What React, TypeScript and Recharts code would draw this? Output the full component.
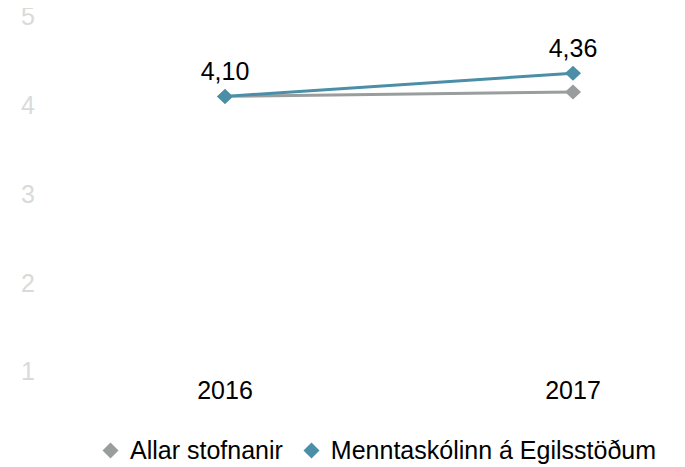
import React from "react";
import { LineChart, Line, XAxis, YAxis, Legend, LabelList } from "recharts";

const categories = ["2016", "2017"];
const allarValues = [4.1, 4.15];
const menntaValues = [4.1, 4.36];
const yTicks = [1, 2, 3, 4, 5];
const seriesNames = ["Allar stofnanir", "Menntaskólinn á Egilsstöðum"];
const labelFlags = [true, true];

const GRAY = "#9a9d9d";
const TEAL = "#4a8ea7";
const FONT = "'Liberation Sans', Arial, sans-serif";

const data = categories.map((c, i) => ({
  year: c,
  allar: allarValues[i],
  mennta: menntaValues[i],
  show: labelFlags[i],
}));

const makeDot = (color: string) => (props: any) => {
  const { cx, cy, index } = props;
  if (cx == null || cy == null) return <g key={index} />;
  const w = 8;
  const h = 7.5;
  return (
    <path
      key={index}
      d={`M${cx},${cy - h} L${cx + w},${cy} L${cx},${cy + h} L${cx - w},${cy} Z`}
      fill={color}
      stroke="none"
    />
  );
};

const YTick = (props: any) => {
  const { y, payload } = props;
  return (
    <text
      x={28}
      y={y}
      dy="0.355em"
      textAnchor="middle"
      fill="#dadada"
      fontSize={25}
      fontFamily={FONT}
    >
      {payload.value}
    </text>
  );
};

const Diamond = ({ color }: { color: string }) => (
  <svg width={17} height={17} style={{ display: "block" }}>
    <path d="M8.5,0.5 L16.5,8.5 L8.5,16.5 L0.5,8.5 Z" fill={color} />
  </svg>
);

const LegendContent = () => {
  const colors = [GRAY, TEAL];
  return (
    <div
      style={{
        display: "flex",
        alignItems: "center",
        paddingLeft: 102,
        height: 30,
        fontFamily: FONT,
        fontSize: 25,
        color: "#000",
        whiteSpace: "nowrap",
      }}
    >
      {seriesNames.map((n, i) => (
        <div
          key={n}
          style={{ display: "flex", alignItems: "center", marginRight: 20 }}
        >
          <Diamond color={colors[i]} />
          <span style={{ marginLeft: 11 }}>{n}</span>
        </div>
      ))}
    </div>
  );
};

const fmt = (v: any) => Number(v).toFixed(2).replace(".", ",");

export default function App() {
  return (
    <div style={{ margin: "-8px 0 0 -8px", width: 685, height: 467 }}>
      <LineChart
        width={685}
        height={467}
        data={data}
        margin={{ top: 16.5, right: 28, bottom: 5.5, left: 8 }}
        style={{ fontFamily: FONT }}
      >
        <XAxis
          dataKey="year"
          axisLine={false}
          tickLine={false}
          tickMargin={4}
          padding={{ left: 181, right: 84 }}
          tick={{ fill: "#000", fontSize: 25, fontFamily: FONT }}
          height={60}
        />
        <YAxis
          domain={[1, 5]}
          ticks={yTicks}
          axisLine={false}
          tickLine={false}
          width={36}
          tick={<YTick />}
          interval={0}
        />
        <Legend
          verticalAlign="bottom"
          content={<LegendContent />}
          wrapperStyle={{ top: 435, left: 0, width: 685, bottom: "auto" }}
        />
        <Line
          dataKey="allar"
          name={seriesNames[0]}
          stroke={GRAY}
          strokeWidth={3}
          type="linear"
          dot={makeDot(GRAY)}
          activeDot={false}
          isAnimationActive={false}
        />
        <Line
          dataKey="mennta"
          name={seriesNames[1]}
          stroke={TEAL}
          strokeWidth={3}
          type="linear"
          dot={makeDot(TEAL)}
          activeDot={false}
          isAnimationActive={false}
        >
          <LabelList
            dataKey="mennta"
            position="top"
            offset={16}
            formatter={fmt}
            fill="#000"
            fontSize={25}
            fontFamily={FONT}
          />
        </Line>
      </LineChart>
    </div>
  );
}
